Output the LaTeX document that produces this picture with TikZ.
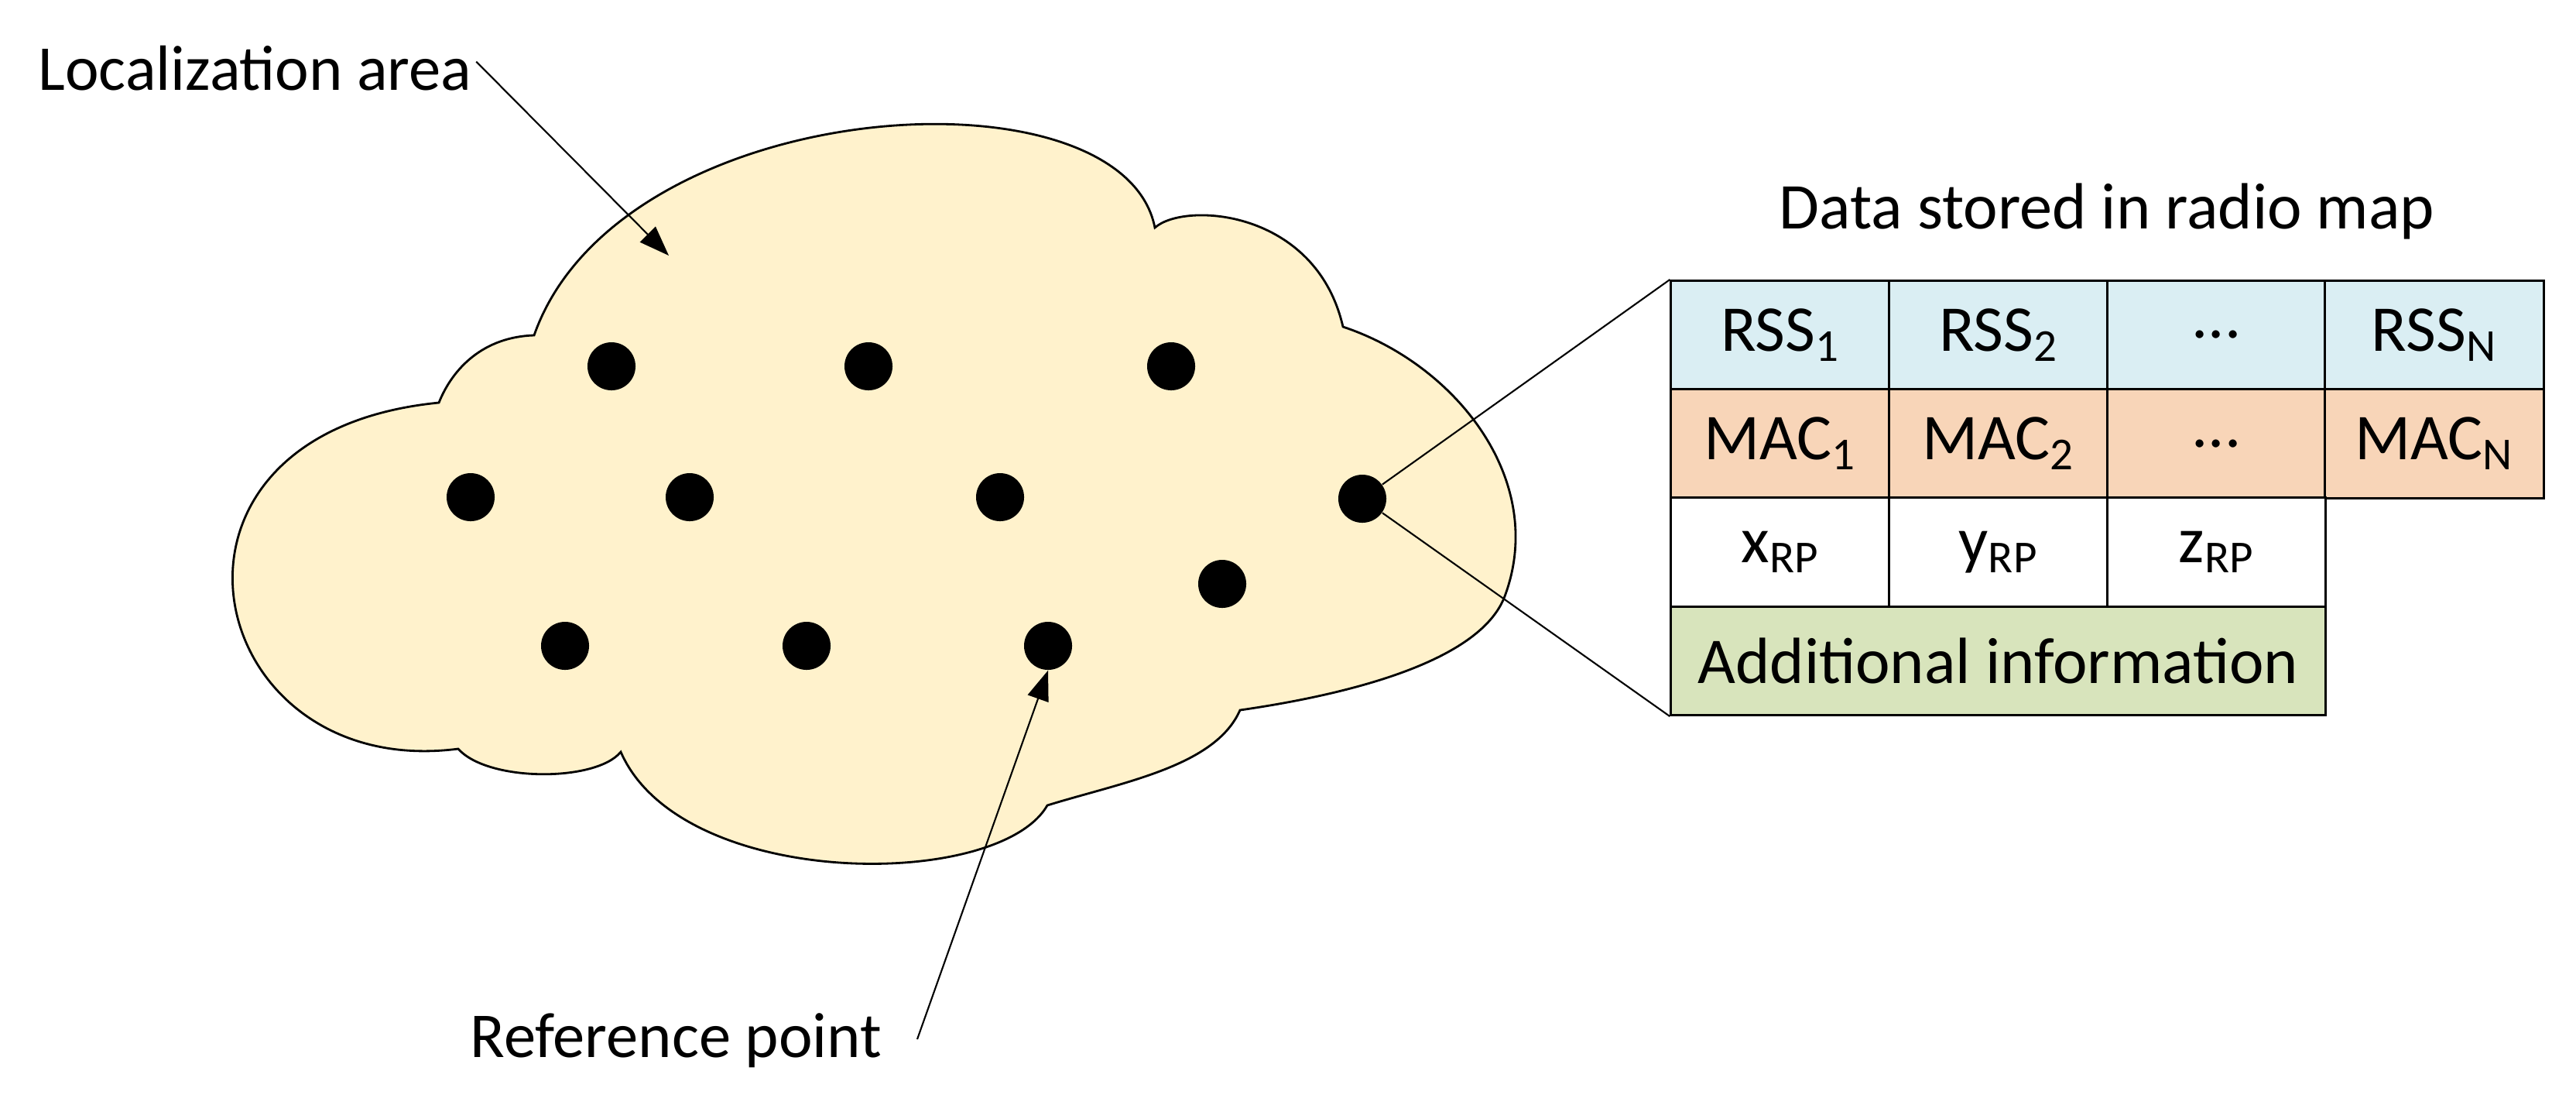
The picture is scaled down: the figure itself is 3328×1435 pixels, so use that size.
\documentclass[tikz,border=0pt]{standalone}
\usepackage{fontspec}
\setmainfont{Carlito}
\usetikzlibrary{arrows.meta}
\definecolor{cloudfill}{HTML}{FFF2CC}
\definecolor{rssblue}{HTML}{DAEEF3}
\definecolor{macorange}{HTML}{F8D5B8}
\definecolor{addgreen}{HTML}{D8E4BC}
\begin{document}
\begin{tikzpicture}[x=0.01cm,y=-0.01cm,
  lbl/.style={font=\fontsize{23.5pt}{28pt}\selectfont, inner sep=0},
  dot/.style={circle, fill=black, minimum size=0.62cm, inner sep=0},
  cell/.style={draw=black, line width=0.85pt, minimum width=2.82cm, minimum height=1.40cm, inner sep=0, font=\fontsize{24pt}{28pt}\selectfont},
  ptr/.style={line width=0.6pt, -{Triangle[length=11pt,width=8pt]}}]
\useasboundingbox (0,0) rectangle (3328,1435);
% cloud
\draw[fill=cloudfill, line width=0.8pt]
 (592,967) .. controls (260,1010) and (160,560) .. (567,520)
 .. controls (585,475) and (625,435) .. (690,433)
 .. controls (800,120) and (1450,80) .. (1492,294)
 .. controls (1530,260) and (1700,270) .. (1735,422)
 .. controls (1880,470) and (2000,620) .. (1944,770)
 .. controls (1910,860) and (1720,900) .. (1602,917)
 .. controls (1570,990) and (1450,1010) .. (1353,1040)
 .. controls (1290,1150) and (880,1150) .. (802,971)
 .. controls (770,1010) and (630,1010) .. (592,967) -- cycle;
% dots
\node[dot] (d1) at (790,473) {};
\node[dot] (d2) at (1122,473) {};
\node[dot] (d3) at (1513,473) {};
\node[dot] (d4) at (608,642) {};
\node[dot] (d5) at (891,642) {};
\node[dot] (d6) at (1292,642) {};
\node[dot] (d7) at (1760,644) {};
\node[dot] (d8) at (1579,754) {};
\node[dot] (d9) at (730,834) {};
\node[dot] (d10) at (1042,834) {};
\node[dot] (d11) at (1354,834) {};
% labels
\node[lbl, anchor=base west] (loc) at (49,116) {Localization area};
\coordinate (locend) at (864,330);
\draw[ptr] (loc.east) ++(5,-8) coordinate (locstart) -- (locend);
\node[lbl, anchor=base west] (ref) at (607,1365) {Reference point};
\coordinate (refstart) at (1185,1342);
\draw[ptr] (refstart) -- (d11.south);
% table
\node[cell, fill=rssblue]    (r1) at (2300,432.5) {RSS\textsubscript{1}};
\node[cell, fill=rssblue]    (r2) at (2582,432.5) {RSS\textsubscript{2}};
\node[cell, fill=rssblue]    (r3) at (2863.5,432.5) {...};
\node[cell, fill=rssblue]    (r4) at (3145,432.5) {RSS\textsubscript{N}};
\node[cell, fill=macorange]  (m1) at (2300,573) {MAC\textsubscript{1}};
\node[cell, fill=macorange]  (m2) at (2582,573) {MAC\textsubscript{2}};
\node[cell, fill=macorange]  (m3) at (2863.5,573) {...};
\node[cell, fill=macorange]  (m4) at (3145,573) {MAC\textsubscript{N}};
\node[cell, fill=white]      (x) at (2300,713) {x\textsubscript{RP}};
\node[cell, fill=white]      (y) at (2582,713) {y\textsubscript{RP}};
\node[cell, fill=white]      (z) at (2863.5,713) {z\textsubscript{RP}};
\node[cell, fill=addgreen, minimum width=8.45cm] (add) at (2581.5,853.5) {Additional information};
\node[font=\fontsize{24pt}{28pt}\selectfont, inner sep=0, anchor=base] (title) at (2722,295) {Data stored in radio map};
% zoom lines
\draw[line width=0.6pt] (d7) -- (r1.north west);
\draw[line width=0.6pt] (d7) -- (add.south west);
\end{tikzpicture}
\end{document}
